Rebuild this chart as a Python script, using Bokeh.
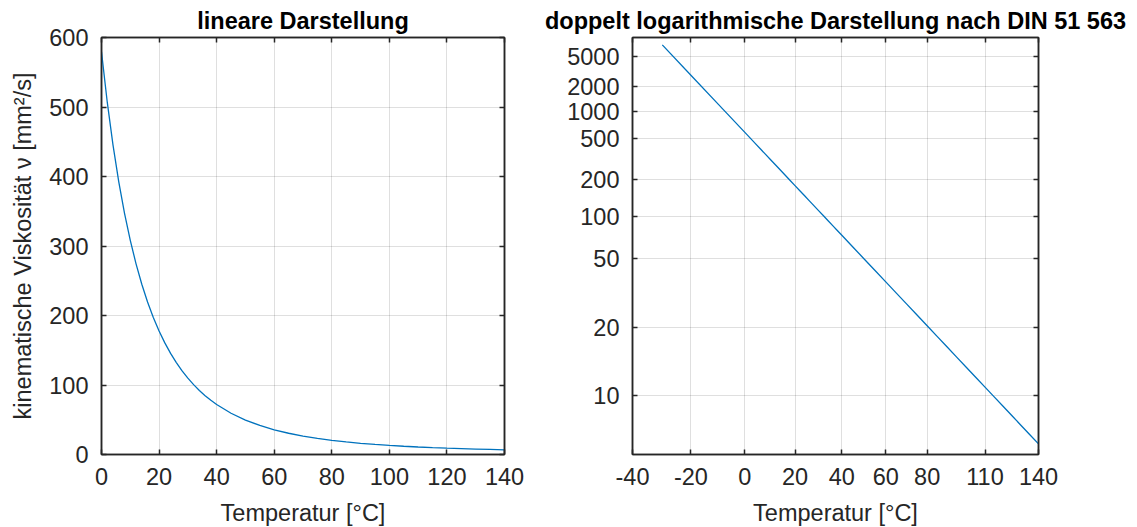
import math

from bokeh.embed import file_html
from bokeh.layouts import row
from bokeh.models import (ColumnDataSource, CustomJSTickFormatter, FixedTicker,
                          Grid, LinearAxis, Range1d)
from bokeh.plotting import figure
from bokeh.resources import INLINE

# Kinematic viscosity of the oil over temperature
temperature = [-30, -20, -10, 0, 2, 4, 6, 8, 10, 12, 14, 16, 18, 20, 22, 24, 26,
               28, 30, 32, 34, 36, 38, 40, 45, 50, 55, 60, 65, 70, 75, 80, 85,
               90, 95, 100, 105, 110, 115, 120, 125, 130, 135, 140]
viscosity = [7496, 2795, 1200, 579.3, 506.9, 445.2, 392.4, 347.1, 308.1, 274.3,
             245.0, 219.5, 197.2, 177.7, 160.6, 145.5, 132.2, 120.3, 109.8,
             100.5, 92.14, 84.67, 77.97, 71.95, 59.35, 49.53, 41.77, 35.57,
             30.58, 26.51, 23.16, 20.38, 18.07, 16.11, 14.46, 13.05, 11.84,
             10.79, 9.88, 9.087, 8.392, 7.779, 7.237, 6.756]

# Tick marks
lin_temp_ticks = [0, 20, 40, 60, 80, 100, 120, 140]
lin_visc_ticks = [0, 100, 200, 300, 400, 500, 600]
din_temp_ticks = [-40, -20, 0, 20, 40, 60, 80, 110, 140]
din_visc_ticks = [10, 20, 50, 100, 200, 500, 1000, 2000, 5000]

FONT = "Liberation Sans"
INK = "#262626"
LINE = "#0072BD"
TICK_PT = "23.5px"
LABEL_PT = "23.5px"
TITLE_PT = "23.5px"

lin = [t for t in temperature if t >= 0]
src_lin = ColumnDataSource(dict(t=lin, v=[viscosity[temperature.index(t)] for t in lin]))

# DIN 51 563 chart coordinates: log(T) against log(log(nu))
src_din = ColumnDataSource(dict(
    x=[math.log10(t + 273.15) for t in temperature],
    y=[math.log10(math.log10(v)) for v in viscosity],
))


def style_axis(ax, ticker, labels=True, formatter=None):
    ax.ticker = ticker
    ax.axis_line_color = INK
    ax.axis_line_width = 1.5
    ax.major_tick_line_color = INK
    ax.major_tick_line_width = 1.5
    ax.major_tick_in = 5
    ax.major_tick_out = 0
    ax.minor_tick_line_color = None
    ax.major_label_text_font = FONT
    ax.major_label_text_font_size = TICK_PT
    ax.major_label_text_color = INK
    ax.major_label_standoff = 13
    ax.axis_label_text_font = FONT
    ax.axis_label_text_font_size = LABEL_PT
    ax.axis_label_text_font_style = "normal"
    ax.axis_label_text_color = INK
    if formatter is not None:
        ax.formatter = formatter
    if not labels:
        ax.formatter = CustomJSTickFormatter(code="return ''")
        ax.major_label_standoff = 0
        ax.major_label_text_font_size = "1px"


def make_fig(title, x_range, y_range, left, right, frame_w):
    p = figure(
        output_backend="svg", toolbar_location=None,
        x_range=x_range, y_range=y_range,
        frame_width=frame_w, frame_height=417,
        min_border_left=left, min_border_right=right,
        min_border_top=37, min_border_bottom=72,
        x_axis_type=None, y_axis_type=None,
        background_fill_color="white", border_fill_color="white",
        outline_line_color=INK, outline_line_width=1.5,
    )
    p.title.text = title
    p.title.align = "center"
    p.title.text_font = FONT
    p.title.text_font_size = TITLE_PT
    p.title.text_font_style = "bold"
    p.title.text_color = "black"
    p.title.standoff = 7
    return p


def add_axes(p, xt, yt, xfmt=None, yfmt=None, ylabel=None):
    for dim, t in ((0, xt), (1, yt)):
        p.add_layout(Grid(dimension=dim, ticker=t, grid_line_color=INK,
                          grid_line_alpha=0.15, grid_line_width=1))
    xb = LinearAxis(axis_label="Temperatur [°C]")
    style_axis(xb, xt, formatter=xfmt)
    xb.axis_label_standoff = 12
    p.add_layout(xb, "below")
    yl = LinearAxis(axis_label=ylabel)
    style_axis(yl, yt, formatter=yfmt)
    yl.axis_label_standoff = 10
    p.add_layout(yl, "left")
    xa = LinearAxis()
    style_axis(xa, xt, labels=False)
    p.add_layout(xa, "above")
    yr = LinearAxis()
    style_axis(yr, yt, labels=False)
    p.add_layout(yr, "right")


# Linear chart
p1 = make_fig("lineare Darstellung", Range1d(0, 140), Range1d(0, 600), 101, 20, 403)
p1.line("t", "v", source=src_lin, line_color=LINE, line_width=1.3)
add_axes(p1, FixedTicker(ticks=lin_temp_ticks), FixedTicker(ticks=lin_visc_ticks),
         ylabel="kinematische Viskosität ν [mm²/s]")

# DIN 51 563 chart
p2 = make_fig("doppelt logarithmische Darstellung nach DIN 51 563",
              Range1d(math.log10(-40 + 273.15), math.log10(140 + 273.15)),
              Range1d(-0.0989, 0.6006), 108, 99, 406)
p2.line("x", "y", source=src_din, line_color=LINE, line_width=1.3)
add_axes(p2,
         FixedTicker(ticks=[math.log10(t + 273.15) for t in din_temp_ticks]),
         FixedTicker(ticks=[math.log10(math.log10(v)) for v in din_visc_ticks]),
         xfmt=CustomJSTickFormatter(code="return Math.round(Math.pow(10, tick) - 273.15).toString();"),
         yfmt=CustomJSTickFormatter(code="return Math.round(Math.pow(10, Math.pow(10, tick))).toString();"))

layout = row(p1, p2, spacing=0)
open("out.html", "w").write(file_html(layout, INLINE))
